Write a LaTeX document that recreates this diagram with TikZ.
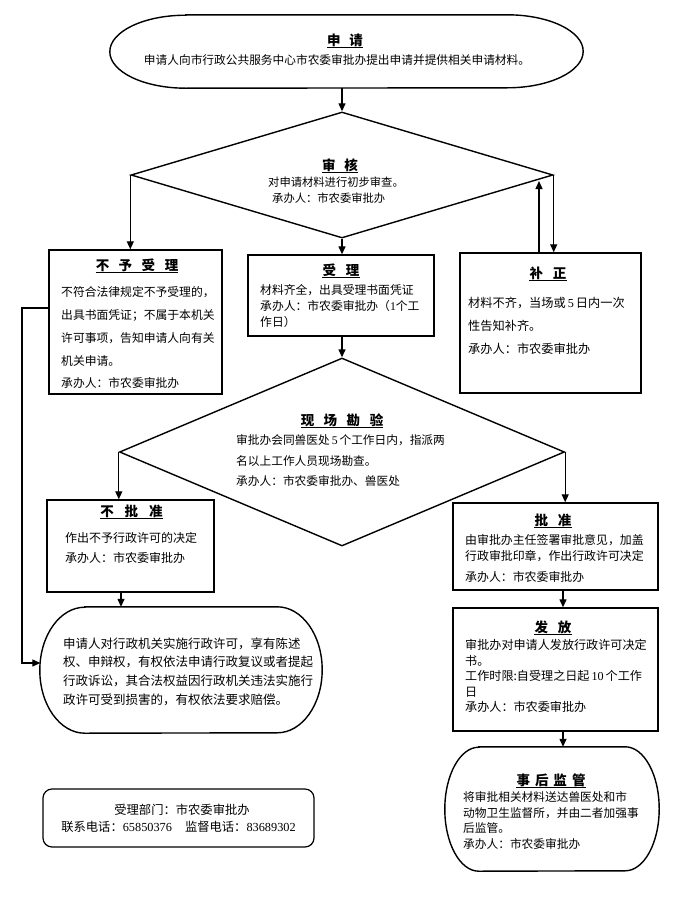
\documentclass[tikz,border=0pt]{standalone}
\usepackage{fontspec}
\setmainfont{Noto Sans CJK SC}
\newfontfamily\numf{Liberation Serif}
\usetikzlibrary{shapes.geometric,arrows.meta,calc}
\newcommand\nm[1]{{\numf #1}}
\newcommand\terminator[3]{%
  \draw[shp] ([xshift=#2]#1.north west) -- ([xshift=-#2]#1.north east)
    arc[start angle=90, end angle=-90, x radius=#2, y radius=#3]
    -- ([xshift=#2]#1.south west)
    arc[start angle=270, end angle=90, x radius=#2, y radius=#3] -- cycle;}
\newcommand\ulnode[1]{\draw[ulline] ([yshift=-2.6pt]#1.base west) -- ([yshift=-2.6pt]#1.base east);}
\begin{document}
\begin{tikzpicture}[x=1pt,y=-1pt,
  shp/.style={draw=black, line width=1.4pt},
  boxn/.style={shp, rectangle, inner sep=0pt},
  dia/.style={shp, diamond, inner sep=0pt},
  ghost/.style={rectangle, inner sep=0pt},
  arr/.style={line width=1.3pt, -{Triangle[length=8pt,width=7pt]}},
  ulline/.style={line width=1pt},
  txt/.style={inner sep=0pt, align=left, anchor=north west},
  ttlnode/.style={inner sep=0pt, anchor=base, font=\fontsize{13.5}{16}\selectfont\bfseries},
  oneline/.style={inner sep=0pt, anchor=base},
]
\useasboundingbox (0,0) rectangle (695,910);
\fill[white] (0,0) rectangle (695,910);

% ---------- shapes ----------
\node[ghost, minimum width=473pt, minimum height=73pt] (start) at (346.5,51.5) {};
\terminator{start}{76pt}{36.5pt}
\node[dia, minimum width=422pt, minimum height=126pt] (shen) at (342,175) {};
\node[boxn, minimum width=173pt, minimum height=144pt] (buyu) at (135.5,322) {};
\node[boxn, minimum width=186pt, minimum height=81pt] (shouli) at (341,295.5) {};
\node[boxn, minimum width=181pt, minimum height=140pt] (buzheng) at (550.5,323) {};
\node[dia, minimum width=445pt, minimum height=188pt] (xian) at (342,452) {};
\node[boxn, minimum width=167pt, minimum height=92pt] (bupi) at (130.5,546) {};
\node[boxn, minimum width=205pt, minimum height=87pt] (pizhun) at (555.5,546.5) {};
\node[boxn, minimum width=205pt, minimum height=123pt] (fafang) at (555.5,669.5) {};
\node[ghost, minimum width=214pt, minimum height=124pt] (shihou) at (552,809) {};
\terminator{shihou}{34pt}{62pt}
\node[ghost, minimum width=282pt, minimum height=126pt] (rights) at (181,670) {};
\terminator{rights}{45pt}{63pt}
\node[shp, line width=1.2pt, rounded corners=9pt, minimum width=271pt, minimum height=58pt] (info) at (178.5,818) {};

% ---------- connectors ----------
\draw[arr] (start.south -| shen.north) -- (shen.north);
\draw[arr] (shen.west) -- (shen.west |- buyu.north);
\draw[arr] (shen.south) -- (shen.south |- shouli.north);
\draw[arr] (shen.east) -- (shen.east |- buzheng.north);
\coordinate (bzup) at ([xshift=-11.5pt]buzheng.north);
\draw[arr] (bzup) -- ([yshift=-6pt]bzup |- shen.east);
\draw[arr] (shouli.south -| xian.north) -- (xian.north);
\draw[arr] (xian.west) -- (xian.west |- bupi.north);
\draw[arr] (xian.east) -- (xian.east |- pizhun.north);
\coordinate (bpout) at ([xshift=-9.5pt]bupi.south);
\draw[arr] (bpout) -- (bpout |- rights.north);
\coordinate (pzout) at ([xshift=7.5pt]pizhun.south);
\draw[arr] (pzout) -- (pzout |- fafang.north);
\coordinate (ffout) at ([xshift=7.5pt]fafang.south);
\draw[arr] (ffout) -- (ffout |- shihou.north);
\coordinate (byout) at ([yshift=14pt]buyu.west);
\coordinate (lpa) at (22,308);
\coordinate (lpb) at (22,663);
\draw[arr] (byout) -- (lpa) -- (lpb) -- ([xshift=0.5pt]lpb -| rights.west);

% ---------- texts ----------
\node[ttlnode] (t0) at (345,45) {申\hspace{9pt}请};
\node[oneline, font=\fontsize{11.7}{14}\selectfont] (s0) at (337,64.5) {申请人向市行政公共服务中心市农委审批办提出申请并提供相关申请材料。};

\node[ttlnode] (t1) at (340,170) {审\hspace{9pt}核};
\node[txt, font=\fontsize{11.3}{16}\selectfont] (s1) at (268,176.9) {对申请材料进行初步审查。\\\hspace{4pt}承办人：市农委审批办};

\node[ttlnode] (t2) at (137,270) {不\hspace{9.5pt}予\hspace{9.5pt}受\hspace{9.5pt}理};
\node[txt, font=\fontsize{11.8}{22.75}\selectfont] (s2) at (61,286.6) {不符合法律规定不予受理的，\\出具书面凭证；不属于本机关\\许可事项，告知申请人向有关\\机关申请。\\承办人：市农委审批办};

\node[ttlnode] (t3) at (341,275) {受\hspace{10pt}理};
\node[txt, font=\fontsize{11.8}{16}\selectfont] (s3) at (260,284.7) {材料齐全，出具受理书面凭证\\承办人：市农委审批办（\nm{1}个工\\作日）};

\node[ttlnode] (t4) at (548,278) {补\hspace{10pt}正};
\node[txt, font=\fontsize{12.2}{23}\selectfont] (s4) at (468,296.5) {材料不齐，当场或\,\nm{5}\,日内一次\\性告知补齐。\\承办人：市农委审批办};

\node[ttlnode] (t5) at (342,425) {现\hspace{9.5pt}场\hspace{9.5pt}勘\hspace{9.5pt}验};
\node[txt, font=\fontsize{11.7}{20.5}\selectfont] (s5) at (236,434.7) {审批办会同兽医处\,\nm{5}\,个工作日内，指派两\\名以上工作人员现场勘查。\\承办人：市农委审批办、兽医处};

\node[ttlnode] (t6) at (131.5,516) {不\hspace{11pt}批\hspace{11pt}准};
\node[txt, font=\fontsize{12}{20}\selectfont] (s6) at (65,532.6) {作出不予行政许可的决定\\承办人：市农委审批办};

\node[ttlnode] (t7) at (553,525) {批\hspace{10pt}准};
\node[txt, font=\fontsize{11.9}{16}\selectfont] (s7) at (465,534.6) {由审批办主任签署审批意见，加盖\\行政审批印章，作出行政许可决定\\[5pt]承办人：市农委审批办};

\node[ttlnode] (t8) at (553,632) {发\hspace{10pt}放};
\node[txt, font=\fontsize{12.1}{15.5}\selectfont] (s8) at (465,639.4) {审批办对申请人发放行政许可决定\\书。\\工作时限:自受理之日起\,\nm{10}\,个工作\\日\\承办人：市农委审批办};

\node[ttlnode] (t9) at (551,785) {事\hspace{5pt}后\hspace{5pt}监\hspace{5pt}管};
\node[txt, font=\fontsize{11.7}{15.5}\selectfont] (s9) at (463,791.7) {将审批相关材料送达兽医处和市\\动物卫生监督所，并由二者加强事\\后监管。\\承办人：市农委审批办};

\foreach \t in {t0,t1,t2,t3,t4,t5,t6,t7,t8,t9}{\ulnode{\t}}

\node[txt, font=\fontsize{12.5}{18.7}\selectfont] (s10) at (63,637.4) {申请人对行政机关实施行政许可，享有陈述\\权、申辩权，有权依法申请行政复议或者提起\\行政诉讼，其合法权益因行政机关违法实施行\\政许可受到损害的，有权依法要求赔偿。};

\node[oneline, font=\fontsize{12.3}{15}\selectfont] (s11) at (182,814.5) {受理部门：市农委审批办};
\node[oneline, font=\fontsize{12.3}{15}\selectfont] (s12) at (178.5,831.5) {联系电话：\nm{65850376}\hspace{13pt}监督电话：\nm{83689302}};
\end{tikzpicture}
\end{document}
